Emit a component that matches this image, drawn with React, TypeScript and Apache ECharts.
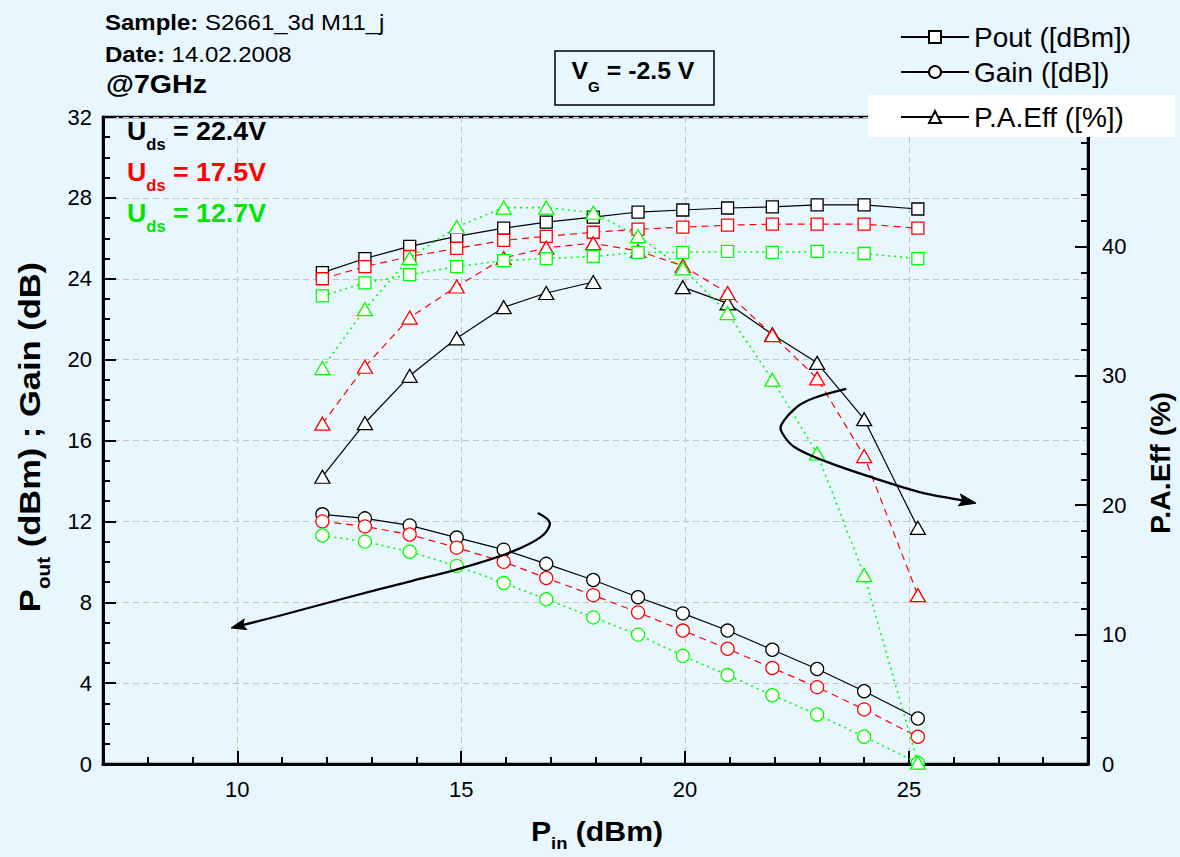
import React, { useEffect, useRef } from 'react';
import * as echarts from 'echarts';

// Input power sweep (dBm)
const pinDbm = [11.9, 12.85, 13.85, 14.9, 15.95, 16.9, 17.95, 18.95, 19.95, 20.95, 21.95, 22.95, 24.0, 25.2];

// Drain bias labels
const biasLabels = ['22.4V', '17.5V', '12.7V'];

// Output power (dBm)
const pout224 = [24.3, 25.0, 25.6, 26.1, 26.5, 26.8, 27.05, 27.3, 27.4, 27.5, 27.55, 27.65, 27.65, 27.45];
const pout175 = [24.0, 24.6, 25.1, 25.5, 25.9, 26.1, 26.3, 26.45, 26.55, 26.65, 26.7, 26.7, 26.7, 26.5];
const pout127 = [23.15, 23.8, 24.2, 24.6, 24.9, 25.0, 25.1, 25.3, 25.3, 25.35, 25.3, 25.35, 25.25, 25.0];

// Gain (dB)
const gain224 = [12.35, 12.15, 11.8, 11.2, 10.6, 9.9, 9.1, 8.25, 7.45, 6.6, 5.65, 4.7, 3.6, 2.25];
const gain175 = [12.0, 11.75, 11.35, 10.7, 10.0, 9.2, 8.35, 7.5, 6.6, 5.7, 4.75, 3.8, 2.7, 1.35];
const gain127 = [11.3, 11.0, 10.5, 9.8, 8.95, 8.15, 7.25, 6.4, 5.35, 4.4, 3.4, 2.45, 1.35, 0.05];

// Power added efficiency (%)
const pae224 = [22.2, 26.35, 30.0, 32.9, 35.3, 36.4, 37.25, null, 36.85, 35.6, 33.2, 31.0, 26.65, 18.25];
const pae175 = [26.3, 30.7, 34.5, 36.9, 39.1, 39.9, 40.25, 39.65, 38.5, 36.4, 33.15, 29.8, 23.8, 13.05];
const pae127 = [30.6, 35.15, 39.1, 41.5, 43.0, 43.0, 42.6, 40.8, 38.3, 34.85, 29.7, 24.0, 14.6, 0.1];

// Axis ticks
const xMajorTicks = [10, 15, 20, 25];
const legendNames = ['Pout ([dBm])', 'Gain ([dB])', 'P.A.Eff ([%])'];

// Trend arrows in (Pin, left-axis) coordinates
const gainTrendArrow = [
  [16.71, 12.41], [16.98, 11.92], [16.78, 11.23], [16.11, 10.48], [14.93, 9.64],
  [13.89, 9.05], [12.42, 8.21], [10.92, 7.32], [9.86, 6.73],
];
const paeTrendArrow = [
  [23.6, 18.55], [22.88, 18.1], [22.5, 17.66], [22.15, 16.77], [22.17, 16.37], [22.44, 15.68],
  [23.17, 14.94], [24.22, 14.14], [25.24, 13.45], [26.13, 13.06], [26.5, 12.9],
];

const FONT = '"Liberation Sans", Arial, Helvetica, sans-serif';
const BG = '#e8f6fe';
const biasColors = ['#000000', '#ff0000', '#00ff00'];
const biasTextColors = ['#000000', '#ff0000', '#00e600'];
const biasDash: any[] = ['solid', [7, 5], [2, 4]];

const quantities = [
  { name: legendNames[0], symbol: 'rect', size: 12, yAxisIndex: 0, values: [pout224, pout175, pout127] },
  { name: legendNames[1], symbol: 'circle', size: 13, yAxisIndex: 0, values: [gain224, gain175, gain127] },
  { name: legendNames[2], symbol: 'triangle', size: [15, 13], yAxisIndex: 1, values: [pae224, pae175, pae127] },
];

function buildSeries() {
  const out: any[] = [];
  biasLabels.forEach((bias, b) => {
    quantities.forEach((q) => {
      out.push({
        type: 'line',
        name: b === 0 ? q.name : `${q.name} ${bias}`,
        xAxisIndex: 0,
        yAxisIndex: q.yAxisIndex,
        symbol: q.symbol,
        symbolSize: q.size,
        showAllSymbol: true,
        connectNulls: false,
        z: 2 + b,
        itemStyle: { color: '#ffffff', borderColor: biasColors[b], borderWidth: 1.3 },
        lineStyle: { color: biasColors[b], width: b === 2 ? 1.6 : 1.2, type: biasDash[b] },
        emphasis: { disabled: true },
        data: pinDbm.map((x, k) => [x, q.values[b][k] === null ? '-' : q.values[b][k]]),
      });
    });
  });
  return out;
}

const subRichZr = (main: number, sub: number, pad: number, fill: string) => ({
  m: { fontSize: main, fontWeight: 'bold', fontFamily: FONT, fill, lineHeight: main + 3 },
  s: { fontSize: sub, fontWeight: 'bold', fontFamily: FONT, fill, lineHeight: sub + 1, padding: [pad, 0, 0, 0] },
});

export default function App() {
  const ref = useRef<HTMLDivElement>(null);

  useEffect(() => {
    document.body.style.margin = '0';
    const el = ref.current;
    if (!el) return;
    const chart = echarts.init(el, null, { renderer: 'svg' });

    const axisLine = { show: true, onZero: false, lineStyle: { color: '#000', width: 3 } };
    const split = { show: true, lineStyle: { color: '#c4c4c4', type: [6, 4], width: 1 } };
    const label = (margin: number) => ({ color: '#000', fontSize: 22, fontFamily: FONT, margin });

    chart.setOption({
      animation: false,
      backgroundColor: BG,
      textStyle: { fontFamily: FONT },
      grid: {
        left: 103, right: 92, top: 117, bottom: 93,
        show: true, borderColor: '#000', borderWidth: 2.5, backgroundColor: 'transparent',
      },
      legend: legendNames.map((name, i) => ({
        data: [name],
        left: 900,
        top: [23, 58, 103][i],
        padding: 0,
        itemWidth: 68,
        itemHeight: 15,
        selectedMode: false,
        z: 20,
        textStyle: { fontSize: 28, color: '#000', fontFamily: FONT },
      })),
      xAxis: [
        {
          type: 'value', min: 7, max: 29, position: 'bottom',
          axisLine,
          axisTick: { show: true, inside: true, length: 13, customValues: xMajorTicks, lineStyle: { color: '#000', width: 2 } },
          axisLabel: { ...label(14), customValues: xMajorTicks },
          splitLine: split,
        },
        {
          type: 'value', min: 7, max: 29, interval: 1, position: 'bottom',
          axisLine: { show: false },
          axisTick: { show: true, inside: true, length: 7, lineStyle: { color: '#000', width: 2 } },
          axisLabel: { show: false },
          splitLine: { show: false },
        },
      ],
      yAxis: [
        {
          type: 'value', min: 0, max: 32, interval: 4, position: 'left',
          axisLine,
          axisTick: { show: true, inside: true, length: 13, lineStyle: { color: '#000', width: 2 } },
          minorTick: { show: true, splitNumber: 4, length: 7, lineStyle: { color: '#000', width: 2 } },
          axisLabel: label(11),
          splitLine: split,
        },
        {
          type: 'value', min: 0, max: 50, interval: 10, position: 'right',
          axisLine,
          axisTick: { show: true, inside: true, length: 13, lineStyle: { color: '#000', width: 2 } },
          minorTick: { show: true, splitNumber: 5, length: 7, lineStyle: { color: '#000', width: 2 } },
          axisLabel: { ...label(14), showMaxLabel: false },
          splitLine: { show: false },
        },
      ],
      series: buildSeries(),
    });

    const toPx = (p: number[]) => chart.convertToPixel({ seriesIndex: 0 }, p) as number[];

    const arrow = (pts: number[][], L: number, W: number) => {
      const px = pts.map(toPx);
      const tip = px[px.length - 1];
      const prev = px[px.length - 2];
      let dx = tip[0] - prev[0];
      let dy = tip[1] - prev[1];
      const len = Math.hypot(dx, dy) || 1;
      dx /= len; dy /= len;
      const nx = -dy, ny = dx;
      const bx = tip[0] - dx * L, by = tip[1] - dy * L;
      const head = [
        tip,
        [bx + nx * W, by + ny * W],
        [tip[0] - dx * L * 0.8, tip[1] - dy * L * 0.8],
        [bx - nx * W, by - ny * W],
      ];
      const body = px.slice(0, -1).concat([[tip[0] - dx * L * 0.7, tip[1] - dy * L * 0.7]]);
      return [
        { type: 'polyline', z: 6, silent: true, shape: { points: body, smooth: 0.35 }, style: { stroke: '#000', lineWidth: 2.3, fill: null } },
        { type: 'polygon', z: 6, silent: true, shape: { points: head }, style: { fill: '#000', stroke: '#000', lineWidth: 1 } },
      ];
    };

    const udsLabels = biasLabels.map((bias, b) => ({
      type: 'text',
      x: 127,
      y: [131, 172, 213][b],
      scaleX: 1.03,
      z: 6,
      style: {
        text: `{m|U}{s|ds}{m| = ${bias}}`,
        align: 'left',
        verticalAlign: 'middle',
        rich: subRichZr(26, 16, 26, biasTextColors[b]),
      },
    }));

    chart.setOption({
      graphic: [
        {
          type: 'text', x: 105, y: 22, scaleX: 1.09,
          style: {
            text: '{b|Sample:} S2661_3d M11_j', fontSize: 22, fontFamily: FONT, fill: '#000',
            align: 'left', verticalAlign: 'middle',
            rich: { b: { fontSize: 22, fontWeight: 'bold', fontFamily: FONT, fill: '#000' } },
          },
        },
        {
          type: 'text', x: 105, y: 54, scaleX: 1.09,
          style: {
            text: '{b|Date:} 14.02.2008', fontSize: 22, fontFamily: FONT, fill: '#000',
            align: 'left', verticalAlign: 'middle',
            rich: { b: { fontSize: 22, fontWeight: 'bold', fontFamily: FONT, fill: '#000' } },
          },
        },
        {
          type: 'text', x: 106, y: 84, scaleX: 1.1,
          style: { text: '@7GHz', fontSize: 26, fontWeight: 'bold', fontFamily: FONT, fill: '#000', align: 'left', verticalAlign: 'middle' },
        },
        {
          type: 'rect', shape: { x: 555, y: 51, width: 159, height: 54 },
          style: { fill: 'none', stroke: '#000', lineWidth: 1.5 },
        },
        {
          type: 'text', x: 633, y: 71, scaleX: 1.08,
          style: {
            text: '{m|V}{s|G}{m| = -2.5 V}', align: 'center', verticalAlign: 'middle',
            rich: subRichZr(23, 14, 32, '#000'),
          },
        },
        ...udsLabels,
        // axis titles
        {
          type: 'text', x: 597, y: 831, scaleX: 1.08,
          style: {
            text: '{m|P}{s|in}{m| (dBm)}', align: 'center', verticalAlign: 'middle',
            rich: subRichZr(28, 17, 24, '#000'),
          },
        },
        {
          type: 'text', x: 30, y: 437, rotation: Math.PI / 2, scaleX: 1.15,
          style: {
            text: '{m|P}{s|out}{m| (dBm) ; Gain (dB)}', align: 'center', verticalAlign: 'middle',
            rich: subRichZr(30, 18, 28, '#000'),
          },
        },
        {
          type: 'text', x: 1160, y: 463, rotation: Math.PI / 2, scaleX: 1.02,
          style: {
            text: 'P.A.Eff (%)', fontSize: 28, fontWeight: 'bold', fontFamily: FONT, fill: '#000',
            align: 'center', verticalAlign: 'middle',
          },
        },
        {
          type: 'rect', z: 10, silent: true,
          shape: { x: 868, y: 95, width: 307, height: 42 },
          style: { fill: '#ffffff' },
        },
        ...arrow(gainTrendArrow, 15, 5.5),
        ...arrow(paeTrendArrow, 17, 6),
      ],
    });

    return () => chart.dispose();
  }, []);

  return (
    <div
      ref={ref}
      style={{ position: 'fixed', left: 0, top: 0, width: 1180, height: 857, background: BG }}
    />
  );
}
